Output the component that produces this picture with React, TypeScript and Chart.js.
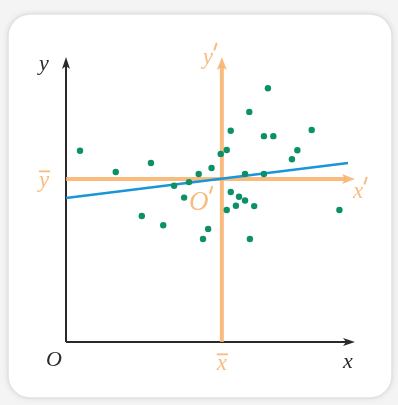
import React, { useEffect, useRef } from "react";
import { Chart, registerables } from "chart.js";

Chart.register(...registerables);

const pointX = [0.49, 1.74, 2.97, 2.65, 3.4, 3.78, 4.13, 4.3, 4.64, 5.09, 4.79, 4.97, 5.41, 5.62, 5.76, 5.62, 5.76, 5.94, 6.05, 6.26, 6.58, 6.26, 6.41, 6.43, 6.92, 7.25, 6.92, 7.06, 7.9, 8.09, 8.59, 9.56];
const pointY = [6.78, 6.03, 6.35, 4.47, 4.14, 5.54, 5.12, 5.67, 5.96, 6.17, 3.65, 4.01, 6.67, 6.81, 7.49, 4.68, 5.32, 4.83, 5.15, 5.02, 4.82, 5.96, 8.16, 3.65, 7.3, 7.3, 5.96, 9.0, 6.48, 6.8, 7.52, 4.68];
const meanX = 5.45;
const meanY = 5.78;
const regX = [0, 9.86];
const regY = [5.11, 6.35];
const axisMax = 10;

const ORANGE = "rgba(247,176,104,0.85)";
const BLUE = "#1a96d8";
const GREEN = "#0c9068";
const BLACK = "#2a2a2a";

function arrow(ctx: CanvasRenderingContext2D, x: number, y: number, dir: "up" | "right", color: string, len = 10, half = 4) {
  ctx.save();
  ctx.fillStyle = color;
  ctx.beginPath();
  if (dir === "up") {
    ctx.moveTo(x, y);
    ctx.lineTo(x - half, y + len);
    ctx.lineTo(x, y + len - 3);
    ctx.lineTo(x + half, y + len);
  } else {
    ctx.moveTo(x, y);
    ctx.lineTo(x - len, y - half);
    ctx.lineTo(x - len + 3, y);
    ctx.lineTo(x - len, y + half);
  }
  ctx.closePath();
  ctx.fill();
  ctx.restore();
}

function label(ctx: CanvasRenderingContext2D, text: string, x: number, y: number, color: string, size = 20, bar = false, prime = false) {
  ctx.save();
  ctx.fillStyle = color;
  ctx.strokeStyle = color;
  ctx.font = `italic ${size}px "Liberation Serif", "DejaVu Serif", serif`;
  ctx.textAlign = "center";
  ctx.textBaseline = "middle";
  ctx.fillText(text, x, y);
  const w = ctx.measureText(text).width;
  if (bar) {
    ctx.lineWidth = 1.8;
    ctx.beginPath();
    ctx.moveTo(x - w / 2, y - size * 0.42);
    ctx.lineTo(x + w / 2 + 1, y - size * 0.42);
    ctx.stroke();
  }
  if (prime) {
    ctx.lineWidth = 2;
    ctx.lineCap = "round";
    const px = x + w / 2 + 2;
    const py = y - size * 0.45;
    ctx.beginPath();
    ctx.moveTo(px + 1.5, py - 4);
    ctx.lineTo(px - 0.5, py + 2);
    ctx.stroke();
  }
  ctx.restore();
}

const decorPlugin = {
  id: "decor",
  beforeDraw(chart: any) {
    const ctx = chart.ctx as CanvasRenderingContext2D;
    ctx.save();
    ctx.fillStyle = "#f4f4f4";
    ctx.fillRect(0, 0, chart.width, chart.height);
    ctx.shadowColor = "rgba(0,0,0,0.12)";
    ctx.shadowBlur = 6;
    ctx.fillStyle = "#ffffff";
    ctx.beginPath();
    (ctx as any).roundRect(8, 14, 384, 384, 22);
    ctx.fill();
    ctx.shadowBlur = 0;
    ctx.strokeStyle = "#e2e2e2";
    ctx.lineWidth = 1.5;
    ctx.stroke();
    ctx.restore();
  },
  beforeDatasetsDraw(chart: any) {
    const ctx = chart.ctx as CanvasRenderingContext2D;
    const xs = chart.scales.x;
    const ys = chart.scales.y;
    const x0 = xs.getPixelForValue(0);
    const y0 = ys.getPixelForValue(0);
    const xEnd = xs.getPixelForValue(axisMax);
    const yEnd = ys.getPixelForValue(axisMax);
    ctx.save();
    ctx.strokeStyle = BLACK;
    ctx.lineWidth = 2;
    ctx.beginPath();
    ctx.moveTo(x0, y0);
    ctx.lineTo(x0, yEnd + 6);
    ctx.moveTo(x0, y0);
    ctx.lineTo(xEnd - 6, y0);
    ctx.stroke();
    ctx.restore();
    arrow(ctx, x0, yEnd - 3, "up", BLACK, 12, 4);
    arrow(ctx, xEnd + 3, y0, "right", BLACK, 12, 4);
  },
  afterDatasetsDraw(chart: any) {
    const ctx = chart.ctx as CanvasRenderingContext2D;
    const xs = chart.scales.x;
    const ys = chart.scales.y;
    const x0 = xs.getPixelForValue(0);
    const y0 = ys.getPixelForValue(0);
    const xEnd = xs.getPixelForValue(axisMax);
    const yEnd = ys.getPixelForValue(axisMax);
    const mx = xs.getPixelForValue(meanX);
    const my = ys.getPixelForValue(meanY);
    arrow(ctx, mx, yEnd - 3, "up", ORANGE, 13, 5);
    arrow(ctx, xEnd + 3, my, "right", ORANGE, 13, 5);
    label(ctx, "y", x0 - 22, yEnd + 4, BLACK, 22);
    label(ctx, "O", x0 - 12, y0 + 18, BLACK, 22);
    label(ctx, "x", xEnd - 4, y0 + 20, BLACK, 22);
    label(ctx, "y", x0 - 22, my + 2, ORANGE, 23, true);
    label(ctx, "x", mx, y0 + 22, ORANGE, 23, true);
    label(ctx, "y", mx - 14, yEnd - 2, ORANGE, 23, false, true);
    label(ctx, "x", xEnd + 6, my + 13, ORANGE, 23, false, true);
    label(ctx, "O", mx - 23, my + 24, ORANGE, 27, false, true);
  },
};

export default function App() {
  const ref = useRef<HTMLCanvasElement | null>(null);
  useEffect(() => {
    if (!ref.current) return;
    const pts = pointX.map((x, i) => ({ x, y: pointY[i] }));
    const chart = new Chart(ref.current, {
      type: "scatter",
      data: {
        datasets: [
          {
            label: "points",
            data: pts,
            backgroundColor: GREEN,
            borderColor: GREEN,
            pointRadius: 3.2,
            borderWidth: 0,
            order: 0,
          },
          {
            label: "regression",
            type: "line",
            data: regX.map((x, i) => ({ x, y: regY[i] })),
            borderColor: BLUE,
            borderWidth: 2.5,
            pointRadius: 0,
            fill: false,
            order: 1,
            clip: false,
          } as any,
          {
            label: "meanY",
            type: "line",
            data: [{ x: 0, y: meanY }, { x: axisMax - 0.2, y: meanY }],
            borderColor: ORANGE,
            borderWidth: 4,
            pointRadius: 0,
            fill: false,
            order: 2,
            clip: false,
          } as any,
          {
            label: "meanX",
            type: "line",
            data: [{ x: meanX, y: 0 }, { x: meanX, y: axisMax - 0.2 }],
            borderColor: ORANGE,
            borderWidth: 4,
            pointRadius: 0,
            fill: false,
            order: 2,
            clip: false,
          } as any,
        ],
      },
      options: {
        responsive: false,
        animation: false,
        layout: { padding: { left: 66, right: 46, top: 60, bottom: 63 } },
        plugins: { legend: { display: false }, tooltip: { enabled: false }, title: { display: false } },
        scales: {
          x: { type: "linear", min: 0, max: axisMax, display: false },
          y: { type: "linear", min: 0, max: axisMax, display: false },
        },
      },
      plugins: [decorPlugin],
    });
    return () => chart.destroy();
  }, []);
  return (
    <div style={{ position: "fixed", left: 0, top: 0, width: 398, height: 405 }}>
      <canvas ref={ref} width={398} height={405} />
    </div>
  );
}
